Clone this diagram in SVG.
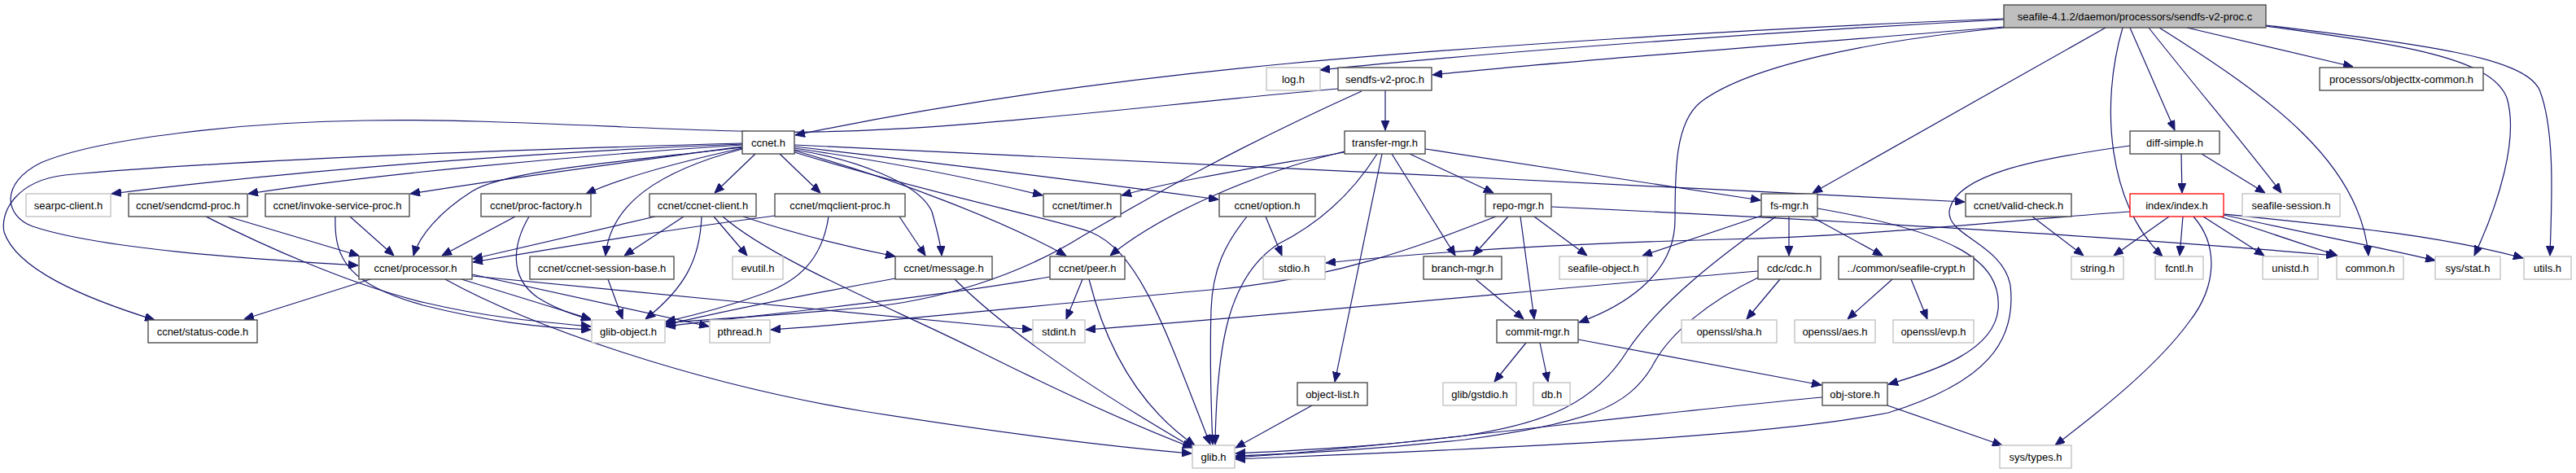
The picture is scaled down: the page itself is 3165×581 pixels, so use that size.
<svg xmlns="http://www.w3.org/2000/svg" width="3165" height="581" viewBox="0 0 3165 581">
<style>
.n rect{fill:#fff;stroke:#404040;stroke-width:1.3}
.g rect{fill:#fff;stroke:#bfbfbf;stroke-width:1.3}
.r rect{fill:#fff;stroke:#ff0000;stroke-width:1.3}
.root rect{fill:#bfbfbf;stroke:#404040;stroke-width:1.3}
text{font-family:"Liberation Sans",Arial,Helvetica,sans-serif;font-size:13px;fill:#000;text-anchor:middle}
#edges path{fill:none;stroke:#191970;stroke-width:1.2;marker-end:url(#ah)}
</style>
<defs>
<marker id="ah" viewBox="0 0 12 10" markerWidth="12" markerHeight="10" refX="12" refY="5" orient="auto" markerUnits="userSpaceOnUse">
<path d="M0,0 L12,5 L0,10 z" fill="#191970" stroke="#191970" stroke-width="1"/>
</marker>
</defs>
<rect width="3165" height="581" fill="#fff"/>
<g id="edges">
<path d="M2462,24 C2200,38 1850,62 1622,86"/>
<path d="M2462,23 C2150,35 1800,58 1583,78 C1350,100 1150,130 977,166"/>
<path d="M2462,33 C2200,55 1950,72 1760,92"/>
<path d="M2462,34 C2300,50 2150,80 2090,125 C2058,150 2058,210 2058,270 C2058,340 1990,378 1940,396"/>
<path d="M2587,34 L2227,237"/>
<path d="M2608,34 C2580,130 2590,250 2657,315"/>
<path d="M2617,34 L2672,160"/>
<path d="M2640,34 C2700,110 2760,180 2803,237"/>
<path d="M2653,34 C2790,120 2900,200 2910,314"/>
<path d="M2687,34 L2891,82"/>
<path d="M2784,32 C2950,55 3060,70 3080,120 C3095,170 3070,250 3040,314"/>
<path d="M2784,31 C2980,55 3100,70 3120,110 C3140,160 3135,250 3133,314"/>
<path d="M1702,111 L1702,160"/>
<path d="M1673,112 C1500,190 1400,250 1330,290 C1250,340 1150,370 1060,378 C950,388 870,392 818,397"/>
<path d="M1644,109 C1400,130 1150,165 950,162 C800,160 600,145 450,148 C300,150 120,170 50,200 C0,225 5,265 40,278 C120,305 300,318 440,326"/>
<path d="M912,176 C700,182 300,195 80,215 C20,222 0,260 5,285 C20,330 100,365 190,393"/>
<path d="M912,181 C750,200 620,210 580,235 C540,260 515,290 508,314"/>
<path d="M912,177 C700,185 400,205 137,238"/>
<path d="M912,178 C700,192 450,215 305,238"/>
<path d="M912,180 C800,195 650,215 504,238"/>
<path d="M912,182 C830,200 760,220 720,238"/>
<path d="M912,183 C810,210 750,250 744,314"/>
<path d="M928,189 L878,237"/>
<path d="M958,189 L1008,237"/>
<path d="M976,178 C1300,195 2000,225 2414,248"/>
<path d="M976,180 C1150,200 1350,225 1497,245"/>
<path d="M976,182 C1100,200 1200,220 1281,240"/>
<path d="M976,184 C1050,195 1130,225 1145,260 C1152,285 1156,300 1157,314"/>
<path d="M976,185 C1100,220 1230,270 1310,314"/>
<path d="M976,187 C1150,240 1300,270 1340,285 C1400,310 1430,400 1487,546"/>
<path d="M280,266 L441,314"/>
<path d="M253,266 C320,300 430,350 523,372 C600,390 660,395 726,401"/>
<path d="M430,266 L484,314"/>
<path d="M412,266 C410,320 430,350 520,375 C600,395 660,402 726,405"/>
<path d="M633,266 L543,314"/>
<path d="M650,266 C630,300 625,340 660,365 C680,378 700,385 726,393"/>
<path d="M805,266 L581,318"/>
<path d="M840,266 L767,314"/>
<path d="M862,266 C860,320 840,355 793,392"/>
<path d="M877,266 L918,314"/>
<path d="M913,266 C970,285 1040,303 1100,315"/>
<path d="M888,266 C950,320 1100,380 1200,430 C1300,480 1400,525 1465,550"/>
<path d="M952,265 C800,285 680,305 581,322"/>
<path d="M1018,266 C1010,320 980,345 940,360 C890,378 850,388 818,395"/>
<path d="M1105,266 L1137,314"/>
<path d="M747,343 L765,392"/>
<path d="M455,343 L300,392"/>
<path d="M567,343 L726,392"/>
<path d="M580,337 L871,401"/>
<path d="M580,339 C800,360 1050,385 1268,405"/>
<path d="M547,343 C650,400 850,470 1060,505 C1250,535 1380,550 1464,557"/>
<path d="M1100,342 C1000,360 900,380 818,399"/>
<path d="M1173,343 C1250,420 1380,500 1466,550"/>
<path d="M1330,343 L1310,392"/>
<path d="M1338,343 C1360,430 1400,500 1468,547"/>
<path d="M1290,340 C1150,365 950,385 818,401"/>
<path d="M1555,266 L1575,314"/>
<path d="M1532,266 C1505,300 1490,330 1488,380 C1486,450 1488,500 1490,546"/>
<path d="M1692,189 C1660,240 1620,275 1570,300 C1510,340 1495,420 1493,546"/>
<path d="M1698,189 L1640,469"/>
<path d="M1710,189 L1788,314"/>
<path d="M1732,189 L1835,237"/>
<path d="M1751,183 C1900,205 2050,228 2163,246"/>
<path d="M1652,186 C1550,210 1430,260 1364,314"/>
<path d="M1652,187 C1550,205 1450,220 1378,240"/>
<path d="M1838,266 C1750,300 1650,340 1500,355 C1300,372 1100,395 947,405"/>
<path d="M1853,266 L1810,314"/>
<path d="M1868,266 L1885,392"/>
<path d="M1885,266 L1950,314"/>
<path d="M1906,254 C2200,268 2600,290 2870,314"/>
<path d="M2617,260 C2450,272 2300,290 2120,294 C1900,300 1750,310 1629,323"/>
<path d="M1813,343 L1872,392"/>
<path d="M1875,421 L1836,469"/>
<path d="M1892,421 L1902,469"/>
<path d="M1939,417 L2238,473"/>
<path d="M1612,498 L1518,550"/>
<path d="M2164,265 L2018,314"/>
<path d="M2198,266 L2198,314"/>
<path d="M2225,266 L2313,314"/>
<path d="M2233,256 C2400,285 2460,320 2455,380 C2450,430 2380,455 2320,472"/>
<path d="M2182,266 C2120,310 2040,370 2000,430 C1960,495 1900,520 1800,535 C1700,548 1600,553 1518,557"/>
<path d="M2187,343 L2146,392"/>
<path d="M2160,333 C1900,355 1600,385 1334,405"/>
<path d="M2160,341 C2100,370 2050,410 2030,450 C2000,500 1950,520 1800,540 C1680,553 1580,558 1518,560"/>
<path d="M2325,343 L2270,392"/>
<path d="M2348,343 L2368,392"/>
<path d="M2239,488 C2000,510 1700,550 1518,562"/>
<path d="M2319,498 L2460,547"/>
<path d="M2680,189 L2681,237"/>
<path d="M2705,189 L2783,237"/>
<path d="M2617,179 C2500,195 2400,215 2395,260 C2393,290 2460,300 2470,350 C2478,420 2440,470 2320,507 C2150,540 1800,552 1518,564"/>
<path d="M2497,266 L2560,314"/>
<path d="M2665,266 L2597,314"/>
<path d="M2682,266 L2678,314"/>
<path d="M2707,266 L2782,314"/>
<path d="M2725,265 L2872,314"/>
<path d="M2732,264 C2850,290 2920,303 2992,320"/>
<path d="M2732,263 C2900,280 3000,290 3100,317"/>
<path d="M2695,266 C2725,300 2725,350 2690,395 C2650,450 2580,505 2525,547"/>
</g>
<g id="n-root" class="root"><rect x="2462" y="6" width="322" height="28"/><text x="2623" y="24.5">seafile-4.1.2/daemon/processors/sendfs-v2-proc.c</text></g>
<g id="n-log" class="g"><rect x="1556" y="83" width="66" height="28"/><text x="1589" y="101.5">log.h</text></g>
<g id="n-sendfsh" class="n"><rect x="1644" y="83" width="115" height="28"/><text x="1701.5" y="101.5">sendfs-v2-proc.h</text></g>
<g id="n-objtx" class="n"><rect x="2850" y="83" width="201" height="28"/><text x="2950.5" y="101.5">processors/objecttx-common.h</text></g>
<g id="n-ccnet" class="n"><rect x="912" y="161" width="64" height="28"/><text x="944" y="179.5">ccnet.h</text></g>
<g id="n-transfer" class="n"><rect x="1652" y="161" width="99" height="28"/><text x="1701.5" y="179.5">transfer-mgr.h</text></g>
<g id="n-diff" class="n"><rect x="2617" y="161" width="110" height="28"/><text x="2672" y="179.5">diff-simple.h</text></g>
<g id="n-searpc" class="g"><rect x="32" y="238" width="104" height="28"/><text x="84" y="256.5">searpc-client.h</text></g>
<g id="n-sendcmd" class="n"><rect x="158" y="238" width="146" height="28"/><text x="231" y="256.5">ccnet/sendcmd-proc.h</text></g>
<g id="n-invoke" class="n"><rect x="326" y="238" width="177" height="28"/><text x="414.5" y="256.5">ccnet/invoke-service-proc.h</text></g>
<g id="n-procfac" class="n"><rect x="591" y="238" width="135" height="28"/><text x="658.5" y="256.5">ccnet/proc-factory.h</text></g>
<g id="n-ccclient" class="n"><rect x="798" y="238" width="131" height="28"/><text x="863.5" y="256.5">ccnet/ccnet-client.h</text></g>
<g id="n-mqclient" class="n"><rect x="952" y="238" width="160" height="28"/><text x="1032" y="256.5">ccnet/mqclient-proc.h</text></g>
<g id="n-timer" class="n"><rect x="1282" y="238" width="95" height="28"/><text x="1329.5" y="256.5">ccnet/timer.h</text></g>
<g id="n-option" class="n"><rect x="1498" y="238" width="118" height="28"/><text x="1557" y="256.5">ccnet/option.h</text></g>
<g id="n-repo" class="n"><rect x="1825" y="238" width="81" height="28"/><text x="1865.5" y="256.5">repo-mgr.h</text></g>
<g id="n-fsmgr" class="n"><rect x="2164" y="238" width="69" height="28"/><text x="2198.5" y="256.5">fs-mgr.h</text></g>
<g id="n-valid" class="n"><rect x="2415" y="238" width="130" height="28"/><text x="2480" y="256.5">ccnet/valid-check.h</text></g>
<g id="n-index" class="r"><rect x="2617" y="238" width="115" height="28"/><text x="2674.5" y="256.5">index/index.h</text></g>
<g id="n-session" class="g"><rect x="2755" y="238" width="120" height="28"/><text x="2815" y="256.5">seafile-session.h</text></g>
<g id="n-processor" class="n"><rect x="441" y="315" width="139" height="28"/><text x="510.5" y="333.5">ccnet/processor.h</text></g>
<g id="n-sessbase" class="n"><rect x="651" y="315" width="177" height="28"/><text x="739.5" y="333.5">ccnet/ccnet-session-base.h</text></g>
<g id="n-evutil" class="g"><rect x="900" y="315" width="62" height="28"/><text x="931" y="333.5">evutil.h</text></g>
<g id="n-message" class="n"><rect x="1100" y="315" width="119" height="28"/><text x="1159.5" y="333.5">ccnet/message.h</text></g>
<g id="n-peer" class="n"><rect x="1290" y="315" width="92" height="28"/><text x="1336" y="333.5">ccnet/peer.h</text></g>
<g id="n-stdio" class="g"><rect x="1552" y="315" width="76" height="28"/><text x="1590" y="333.5">stdio.h</text></g>
<g id="n-branch" class="n"><rect x="1749" y="315" width="96" height="28"/><text x="1797" y="333.5">branch-mgr.h</text></g>
<g id="n-seafobj" class="g"><rect x="1916" y="315" width="108" height="28"/><text x="1970" y="333.5">seafile-object.h</text></g>
<g id="n-cdc" class="n"><rect x="2160" y="315" width="77" height="28"/><text x="2198.5" y="333.5">cdc/cdc.h</text></g>
<g id="n-crypt" class="n"><rect x="2259" y="315" width="166" height="28"/><text x="2342" y="333.5">../common/seafile-crypt.h</text></g>
<g id="n-string" class="g"><rect x="2545" y="315" width="64" height="28"/><text x="2577" y="333.5">string.h</text></g>
<g id="n-fcntl" class="g"><rect x="2648" y="315" width="59" height="28"/><text x="2677.5" y="333.5">fcntl.h</text></g>
<g id="n-unistd" class="g"><rect x="2780" y="315" width="68" height="28"/><text x="2814" y="333.5">unistd.h</text></g>
<g id="n-common" class="g"><rect x="2871" y="315" width="82" height="28"/><text x="2912" y="333.5">common.h</text></g>
<g id="n-stat" class="g"><rect x="2992" y="315" width="80" height="28"/><text x="3032" y="333.5">sys/stat.h</text></g>
<g id="n-utils" class="g"><rect x="3101" y="315" width="58" height="28"/><text x="3130" y="333.5">utils.h</text></g>
<g id="n-status" class="n"><rect x="182" y="393" width="134" height="28"/><text x="249" y="411.5">ccnet/status-code.h</text></g>
<g id="n-glibobj" class="g"><rect x="727" y="393" width="90" height="28"/><text x="772" y="411.5">glib-object.h</text></g>
<g id="n-pthread" class="g"><rect x="872" y="393" width="74" height="28"/><text x="909" y="411.5">pthread.h</text></g>
<g id="n-stdint" class="g"><rect x="1269" y="393" width="64" height="28"/><text x="1301" y="411.5">stdint.h</text></g>
<g id="n-commit" class="n"><rect x="1839" y="393" width="100" height="28"/><text x="1889" y="411.5">commit-mgr.h</text></g>
<g id="n-sha" class="g"><rect x="2066" y="393" width="117" height="28"/><text x="2124.5" y="411.5">openssl/sha.h</text></g>
<g id="n-aes" class="g"><rect x="2205" y="393" width="99" height="28"/><text x="2254.5" y="411.5">openssl/aes.h</text></g>
<g id="n-evp" class="g"><rect x="2326" y="393" width="99" height="28"/><text x="2375.5" y="411.5">openssl/evp.h</text></g>
<g id="n-objlist" class="n"><rect x="1594" y="470" width="86" height="28"/><text x="1637" y="488.5">object-list.h</text></g>
<g id="n-gstdio" class="g"><rect x="1773" y="470" width="90" height="28"/><text x="1818" y="488.5">glib/gstdio.h</text></g>
<g id="n-db" class="g"><rect x="1884" y="470" width="45" height="28"/><text x="1906.5" y="488.5">db.h</text></g>
<g id="n-objstore" class="n"><rect x="2239" y="470" width="80" height="28"/><text x="2279" y="488.5">obj-store.h</text></g>
<g id="n-glib" class="g"><rect x="1465" y="547" width="52" height="28"/><text x="1491" y="565.5">glib.h</text></g>
<g id="n-systypes" class="g"><rect x="2457" y="547" width="88" height="28"/><text x="2501" y="565.5">sys/types.h</text></g>
</svg>
